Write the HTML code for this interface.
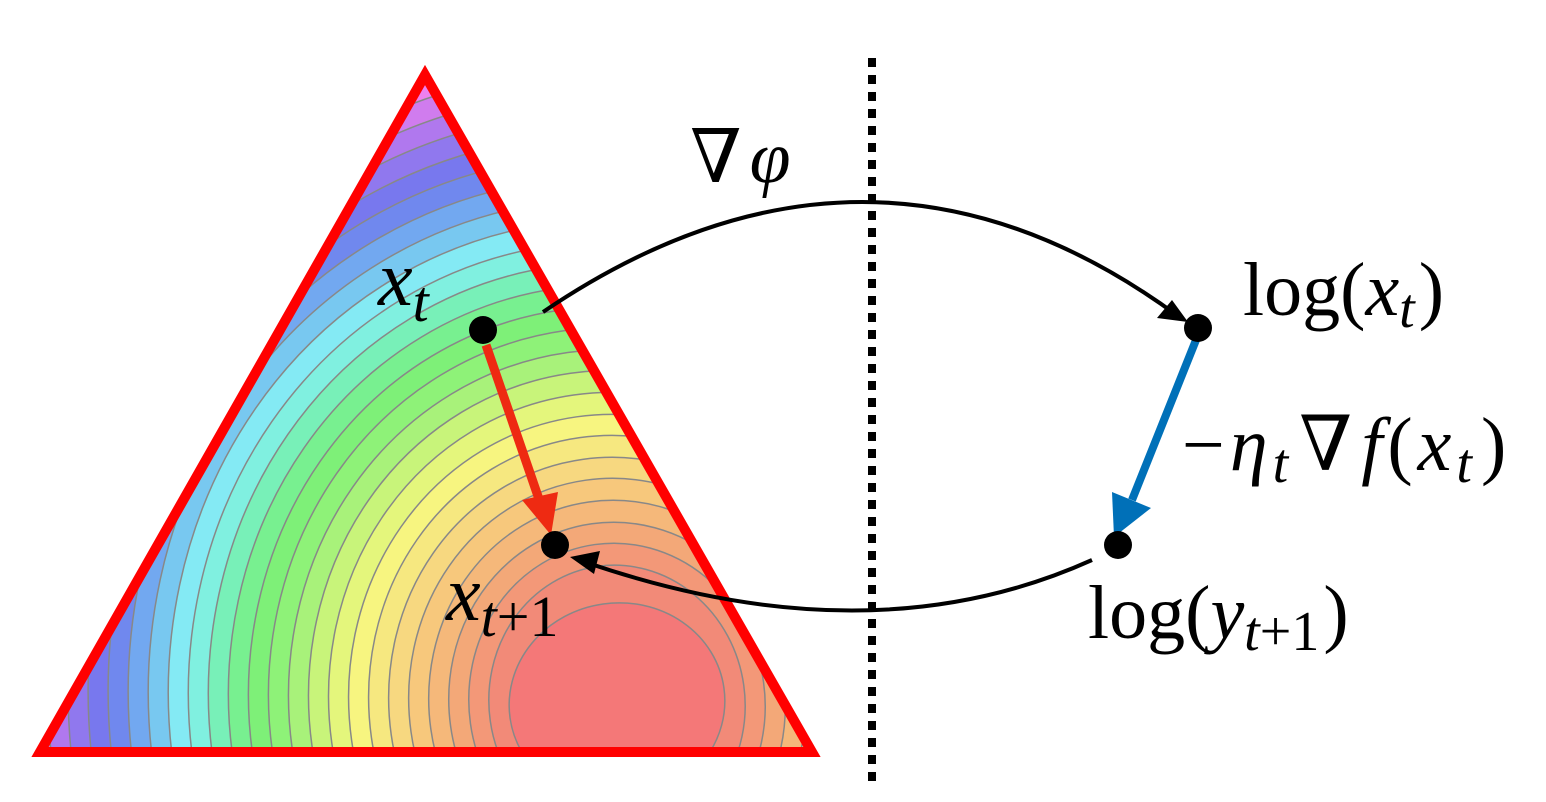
<!DOCTYPE html>
<html><head><meta charset="utf-8"><style>
html,body{margin:0;padding:0;background:#fff;overflow:hidden;width:1546px;height:802px}
svg{display:block}
text{font-family:"Liberation Serif","DejaVu Serif",serif;fill:#000}
</style></head><body>
<svg width="1546" height="802" viewBox="0 0 1546 802" xmlns="http://www.w3.org/2000/svg">
<defs>
<clipPath id="tri"><polygon points="425,75 40,752 812,752"/></clipPath>
</defs>
<polygon points="425,75 40,752 812,752" fill="#ee80ee"/>
<g clip-path="url(#tri)">
<g stroke="#888" stroke-width="1.5" transform="rotate(-8 617 703)">
<ellipse cx="617" cy="703" rx="588" ry="635" fill="#d07cee"/>
<ellipse cx="617" cy="703" rx="568" ry="613" fill="#b078ee"/>
<ellipse cx="617" cy="703" rx="548" ry="592" fill="#9078ee"/>
<ellipse cx="617" cy="703" rx="528" ry="570" fill="#7878ee"/>
<ellipse cx="617" cy="703" rx="508" ry="549" fill="#7088ee"/>
<ellipse cx="617" cy="703" rx="488" ry="527" fill="#72a8f0"/>
<ellipse cx="617" cy="703" rx="468" ry="505" fill="#78c8f0"/>
<ellipse cx="617" cy="703" rx="448" ry="484" fill="#84eaf4"/>
<ellipse cx="617" cy="703" rx="428" ry="462" fill="#80f0e0"/>
<ellipse cx="617" cy="703" rx="408" ry="441" fill="#78f0b8"/>
<ellipse cx="617" cy="703" rx="388" ry="419" fill="#78f090"/>
<ellipse cx="617" cy="703" rx="368" ry="397" fill="#7ef078"/>
<ellipse cx="617" cy="703" rx="348" ry="376" fill="#8ef278"/>
<ellipse cx="617" cy="703" rx="328" ry="354" fill="#a8f27a"/>
<ellipse cx="617" cy="703" rx="308" ry="333" fill="#c8f47a"/>
<ellipse cx="617" cy="703" rx="288" ry="311" fill="#e4f67c"/>
<ellipse cx="617" cy="703" rx="268" ry="289" fill="#f7f580"/>
<ellipse cx="617" cy="703" rx="248" ry="268" fill="#f6e880"/>
<ellipse cx="617" cy="703" rx="228" ry="246" fill="#f7d880"/>
<ellipse cx="617" cy="703" rx="208" ry="225" fill="#f7c87c"/>
<ellipse cx="617" cy="703" rx="188" ry="203" fill="#f5b87a"/>
<ellipse cx="617" cy="703" rx="168" ry="181" fill="#f3a878"/>
<ellipse cx="617" cy="703" rx="148" ry="160" fill="#f39878"/>
<ellipse cx="617" cy="703" rx="128" ry="138" fill="#f28a78"/>
<ellipse cx="617" cy="703" rx="108" ry="100" fill="#f47878"/>
</g>
</g>
<polygon points="425,75 40,752 812,752" fill="none" stroke="#ff0000" stroke-width="10" stroke-linejoin="miter"/>

<line x1="872" y1="58" x2="872" y2="782" stroke="#000" stroke-width="8" stroke-dasharray="9,8"/>

<path d="M543,312 Q870,90 1178,316" fill="none" stroke="#000" stroke-width="4"/>
<polygon points="1188,322 1157,318 1172,300" fill="#000"/>
<path d="M1092,560 Q870,660 585,562" fill="none" stroke="#000" stroke-width="4"/>
<polygon points="570,557 600,551 594,574" fill="#000"/>

<line x1="486" y1="345" x2="541" y2="505" stroke="#ee2a12" stroke-width="9"/>
<polygon points="551,535 522,500 558,492" fill="#ee2a12"/>
<line x1="1196" y1="340" x2="1132" y2="500" stroke="#0070b8" stroke-width="8"/>
<polygon points="1114,537 1112,492 1151,508" fill="#0070b8"/>

<circle cx="483" cy="330" r="14" fill="#000"/>
<circle cx="555" cy="545" r="14" fill="#000"/>
<circle cx="1198" cy="328" r="14" fill="#000"/>
<circle cx="1118" cy="545" r="14" fill="#000"/>

<text x="690" y="182" font-size="74">∇<tspan font-style="italic" dx="8">φ</tspan></text>
<text x="378" y="305" font-size="78" font-style="italic">x<tspan font-size="58" dy="16">t</tspan></text>
<text x="446" y="620" font-size="78" font-style="italic">x<tspan font-size="58" dy="16">t</tspan><tspan font-style="normal" font-size="58">+1</tspan></text>
<text x="1243" y="315" font-size="76">log(<tspan font-style="italic">x</tspan><tspan font-style="italic" font-size="56" dy="12">t</tspan><tspan dy="-12" dx="4">)</tspan></text>
<text x="1182" y="470" font-size="76" letter-spacing="5">−<tspan font-style="italic">η</tspan><tspan font-style="italic" font-size="56" dy="12">t</tspan><tspan dy="-12" dx="6">∇</tspan><tspan font-style="italic" dx="4">f</tspan>(<tspan font-style="italic">x</tspan><tspan font-style="italic" font-size="56" dy="12">t</tspan><tspan dy="-12" dx="4">)</tspan></text>
<text x="1088" y="638" font-size="76">log(<tspan font-style="italic">y</tspan><tspan font-style="italic" font-size="56" dy="12">t</tspan><tspan font-size="56">+1</tspan><tspan dy="-12" dx="4">)</tspan></text>
</svg>
</body></html>
